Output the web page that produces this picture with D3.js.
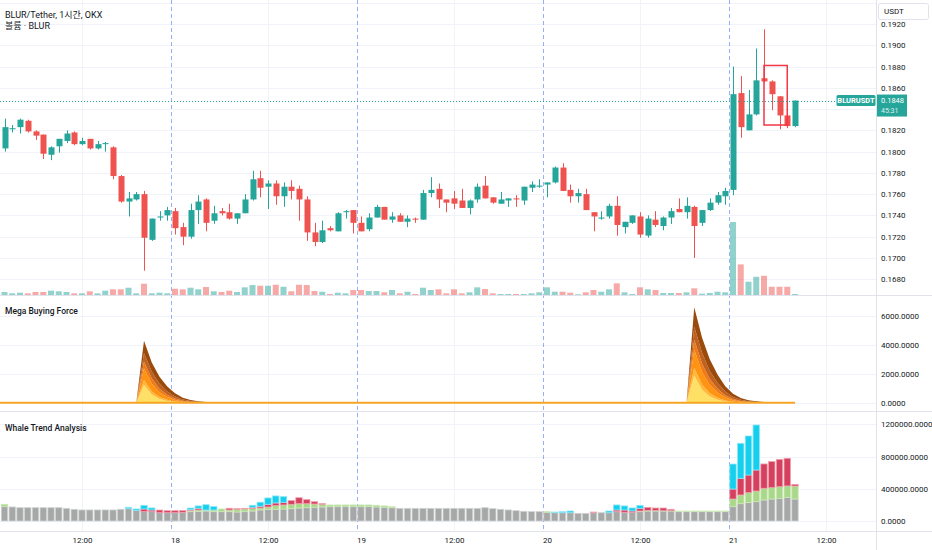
<!DOCTYPE html>
<html>
<head>
<meta charset="utf-8">
<script src="https://cdn.jsdelivr.net/npm/d3@7"></script>
<style>
body { margin: 0; background: #fff; }
svg text { font-family: Roboto, "Noto Sans CJK KR", sans-serif; }
</style>
</head>
<body>
<svg id="chart" width="932" height="550"></svg>
<script>
// ---- data ----
const openP = [.1803,.1821,.1823,.1829,.1819,.1816,.1797,.1805,.1810,.1818,
  .1807,.1812,.1803,.1807,.1804,.1777,.1753,.1755,.1760,.1717,
  .1738,.1740,.1744,.1729,.1720,.1745,.1755,.1735,.1744,.1743,
  .1737,.1742,.1755,.1775,.1767,.1770,.1758,.1767,.1765,.1755,
  .1724,.1715,.1728,.1725,.1743,.1745,.1733,.1727,.1738,.1748,
  .1736,.1740,.1734,.1737,.1736,.1761,.1765,.1755,.1756,.1754,
  .1747,.1755,.1768,.1757,.1751,.1754,.1756,.1754,.1766,.1767,
  .1769,.1771,.1785,.1764,.1758,.1760,.1743,.1737,.1739,.1749,
  .1729,.1733,.1739,.1721,.1736,.1730,.1738,.1746,.1743,.1748,
  .1733,.1745,.1752,.1758,.1764,.1855,.1820,.1835,.1869,.1866,
  .1852,.1834,.1824];
const highP = [.1831,.1825,.1831,.1830,.1820,.1816,.1805,.1812,.1820,.1819,
  .1813,.1812,.1810,.1809,.1805,.1778,.1762,.1762,.1763,.1737,
  .1744,.1748,.1747,.1733,.1751,.1759,.1756,.1749,.1747,.1751,
  .1742,.1760,.1782,.1782,.1773,.1773,.1771,.1773,.1768,.1758,
  .1733,.1735,.1730,.1743,.1745,.1745,.1739,.1742,.1750,.1748,
  .1743,.1742,.1740,.1738,.1764,.1776,.1770,.1755,.1763,.1765,
  .1755,.1770,.1777,.1757,.1762,.1756,.1759,.1767,.1772,.1774,
  .1771,.1786,.1789,.1769,.1765,.1765,.1743,.1744,.1751,.1758,
  .1734,.1740,.1743,.1740,.1744,.1739,.1747,.1756,.1757,.1749,
  .1745,.1756,.1762,.1766,.1880,.1871,.1858,.1897,.1915,.1867,
  .1852,.1834,.1848];
const lowP = [.1800,.1818,.1817,.1818,.1811,.1793,.1792,.1799,.1808,.1806,
  .1806,.1802,.1802,.1800,.1774,.1752,.1739,.1754,.1688,.1716,
  .1735,.1735,.1722,.1712,.1718,.1732,.1725,.1732,.1740,.1736,
  .1732,.1742,.1754,.1757,.1746,.1750,.1748,.1755,.1735,.1716,
  .1711,.1714,.1725,.1725,.1737,.1723,.1725,.1725,.1738,.1736,
  .1733,.1734,.1729,.1733,.1736,.1757,.1747,.1743,.1746,.1747,
  .1741,.1752,.1756,.1751,.1751,.1748,.1748,.1750,.1762,.1766,
  .1757,.1770,.1763,.1752,.1752,.1745,.1725,.1736,.1737,.1721,
  .1723,.1732,.1719,.1719,.1729,.1726,.1732,.1743,.1737,.1700,
  .1730,.1744,.1750,.1750,.1759,.1813,.1820,.1834,.1865,.1839,
  .1821,.1822,.1823];
const closeP = [.1823,.1822,.1830,.1819,.1815,.1798,.1804,.1812,.1817,.1807,
  .1810,.1803,.1807,.1808,.1777,.1753,.1756,.1760,.1719,.1737,
  .1739,.1745,.1728,.1720,.1745,.1753,.1733,.1742,.1742,.1737,
  .1742,.1755,.1774,.1766,.1770,.1758,.1767,.1763,.1755,.1724,
  .1715,.1726,.1726,.1742,.1744,.1733,.1725,.1738,.1748,.1736,
  .1739,.1734,.1737,.1736,.1761,.1764,.1755,.1752,.1751,.1747,
  .1754,.1767,.1756,.1752,.1755,.1756,.1755,.1767,.1769,.1768,
  .1771,.1785,.1763,.1758,.1761,.1745,.1739,.1738,.1749,.1731,
  .1734,.1740,.1722,.1737,.1731,.1738,.1744,.1743,.1749,.1730,
  .1745,.1752,.1759,.1763,.1854,.1823,.1835,.1867,.1866,.1854,
  .1834,.1824,.1848];
// volume, thousands of BLUR
const volumeK = [30,17,23,17,30,30,43,37,30,17,
  17,37,17,43,57,57,73,17,113,17,
  23,17,63,57,73,57,80,37,30,43,
  30,77,100,93,93,103,83,37,103,100,
  40,33,10,23,17,50,50,40,40,27,
  50,17,33,10,73,50,57,17,57,17,
  27,77,60,17,10,10,10,10,17,27,
  77,33,33,23,7,27,50,33,57,117,
  27,10,77,57,50,20,20,20,27,67,
  13,20,33,27,733,307,133,183,193,83,
  83,83,10];

// Mega Buying Force: two bursts, six stacked layers each (bottom -> top)
const forceStartA = 17;
const forceLayersA = [
  [0, 1220, 560, 260, 120, 50, 22, 10, 4, 2, 1, 0, 0, 0, 0],
  [0, 345, 220, 130, 75, 38, 18, 8, 4, 2, 1, 1, 0, 0, 0],
  [0, 807, 540, 330, 190, 100, 50, 25, 13, 7, 4, 2, 1, 0, 0],
  [0, 456, 360, 250, 165, 95, 50, 27, 14, 8, 4, 2, 1, 1, 0],
  [0, 579, 470, 340, 230, 140, 80, 43, 23, 13, 7, 4, 2, 1, 1],
  [0, 869, 630, 485, 345, 224, 130, 72, 42, 23, 13, 7, 4, 2, 1]
];
const forceStartB = 88;
const forceLayersB = [
  [0, 1880, 900, 420, 200, 85, 35, 15, 7, 3, 1, 1, 0, 0, 0],
  [0, 530, 350, 230, 140, 75, 35, 17, 8, 4, 2, 1, 1, 0, 0],
  [0, 1240, 880, 570, 360, 195, 95, 48, 24, 13, 7, 3, 2, 1, 0],
  [0, 700, 580, 410, 270, 160, 85, 45, 23, 12, 6, 3, 2, 1, 1],
  [0, 890, 760, 560, 400, 250, 140, 78, 42, 24, 13, 7, 3, 2, 1],
  [0, 1340, 1030, 810, 580, 375, 220, 127, 71, 41, 23, 13, 7, 4, 2]
];

// Whale Trend Analysis, thousands
const whaleGray = [178,174,165,165,165,165,165,165,157,145,
  137,137,137,137,137,145,153,132,116,116,
  103,103,103,108,116,120,124,116,116,116,
  112,116,124,137,145,145,149,153,161,165,
  170,174,178,178,178,178,178,178,174,170,
  165,157,157,157,157,157,157,157,157,157,
  157,157,165,153,145,137,128,120,116,116,
  108,103,103,103,95,95,103,103,103,116,
  108,108,116,124,124,124,124,116,116,116,
  116,116,116,116,178,215,228,240,261,273,
  281,294,273];
const whaleGreen = [29,0,0,0,0,0,0,0,0,0,
  0,0,0,0,0,0,0,0,0,0,
  0,0,0,0,12,17,12,21,33,21,
  33,33,29,25,29,46,50,54,54,50,
  41,33,21,21,21,21,21,21,21,17,
  12,0,0,0,0,0,0,0,0,0,
  0,0,0,0,0,0,0,0,0,0,
  8,0,0,0,0,0,0,0,0,0,
  0,0,8,8,8,4,4,8,8,8,
  8,8,8,8,95,108,124,132,145,141,
  145,141,161];
const whaleRed = [0,0,0,0,0,0,0,0,0,0,
  0,0,0,0,0,0,0,0,33,21,
  33,25,25,21,12,21,0,0,0,21,
  8,8,17,21,33,33,33,46,74,50,
  29,8,0,0,0,0,0,0,0,0,
  0,0,0,0,0,0,0,0,0,0,
  0,0,0,0,0,0,0,0,0,0,
  0,0,0,0,0,0,8,0,0,21,
  29,17,33,37,29,33,17,0,0,0,
  0,0,0,0,124,207,219,261,302,323,
  339,343,21];
const whaleCyan = [0,0,0,0,0,0,0,0,0,0,
  0,0,0,0,0,0,17,17,45,25,
  0,0,0,0,21,29,66,41,0,0,
  0,0,25,50,79,87,70,0,0,0,
  0,0,0,0,0,0,0,0,0,0,
  0,0,0,0,0,0,0,0,0,0,
  0,0,0,0,0,0,0,0,0,0,
  0,8,12,21,0,0,0,0,21,62,
  50,37,37,0,0,0,0,0,0,0,
  0,0,0,0,310,434,484,558,0,0,
  0,0,0];

const priceTicks = [0.1680,0.1700,0.1720,0.1740,0.1760,0.1780,0.1800,0.1820,0.1840,0.1860,0.1880,0.1900,0.1920];
const priceGrid = priceTicks.concat([0.1940]);
const forceTicks = [0, 2000, 4000, 6000];
const whaleTicks = [0, 400000, 800000, 1200000];
const timeLabels = ["12:00","18","12:00","19","12:00","20","12:00","21","12:00"];
const lastPrice = 0.1848;
const countdown = "45:31";
const boxFrom = 0.1881, boxTo = 0.1825;   // drawn rectangle, price range
const boxBars = [98, 101];                 // drawn rectangle, bar range

// ---- layout ----
const plotRight = 876;
const green = "#26a69a", red = "#ef5350";
const gridColor = "#f0f3fa", lineColor = "#e0e3eb", textColor = "#131722";
const svg = d3.select("#chart");

const t0 = Date.UTC(2024, 8, 17, 2);
const times = openP.map((d, i) => new Date(t0 + i * 3600e3));
const x = d3.scaleUtc().domain([times[0], times[times.length - 1]])
  .range([4.5, 4.5 + 7.75 * (times.length - 1)]);
const barW = 7.75;

const yPrice = d3.scaleLinear().domain([0.1680, 0.1920]).range([279.2, 24]);
const yVol = d3.scaleLinear().domain([0, 733]).range([295, 222]);
const yForce = d3.scaleLinear().domain([0, 6000]).range([402.7, 315.7]);
const yWhale = d3.scaleLinear().domain([0, 1200000]).range([521, 424.3]);

const panes = [[0, 295], [296, 411], [412, 531]];
const defs = svg.append("defs");
panes.forEach((p, k) => {
  defs.append("clipPath").attr("id", "clip" + k)
    .append("rect").attr("x", 0).attr("y", p[0]).attr("width", plotRight).attr("height", p[1] - p[0]);
});

// ---- grid ----
const grid = svg.append("g");
function hLines(cls, ticks, scale) {
  grid.selectAll("line." + cls).data(ticks).join("line").attr("class", cls)
    .attr("x1", 0).attr("x2", plotRight)
    .attr("y1", d => Math.round(scale(d)) + 0.5).attr("y2", d => Math.round(scale(d)) + 0.5)
    .attr("stroke", gridColor);
}
hLines("hp", priceGrid, yPrice);
hLines("hf", forceTicks, yForce);
hLines("hw", whaleTicks, yWhale);

const tickTimes = d3.utcHour.every(12).range(new Date(Date.UTC(2024, 8, 17, 12)), new Date(Date.UTC(2024, 8, 21, 13)));
grid.selectAll("line.v").data(tickTimes.filter(t => t.getUTCHours() === 12)).join("line").attr("class", "v")
  .attr("x1", d => Math.round(x(d)) + 0.5).attr("x2", d => Math.round(x(d)) + 0.5)
  .attr("y1", 0).attr("y2", 531).attr("stroke", gridColor);

// session breaks sit between the last bar of a day and the first of the next
const breaks = tickTimes.filter(t => t.getUTCHours() === 0 && t <= times[times.length - 1]);
grid.selectAll("line.s").data(breaks).join("line").attr("class", "s")
  .attr("x1", d => Math.round(x(d) - barW / 2) + 0.5).attr("x2", d => Math.round(x(d) - barW / 2) + 0.5)
  .attr("y1", 0).attr("y2", 531)
  .attr("stroke", "#2962ff").attr("stroke-opacity", 0.5).attr("stroke-dasharray", "4,3");

// ---- main pane: volume + candles ----
const main = svg.append("g").attr("clip-path", "url(#clip0)");
main.selectAll("rect.vol").data(volumeK).join("rect").attr("class", "vol")
  .attr("x", (d, i) => x(times[i]) - 3)
  .attr("width", 6)
  .attr("y", d => yVol(d))
  .attr("height", d => 295 - yVol(d))
  .attr("fill", (d, i) => closeP[i] >= openP[i] ? green : red)
  .attr("opacity", 0.5);

const candles = main.selectAll("g.c").data(openP).join("g").attr("class", "c")
  .attr("fill", (d, i) => closeP[i] >= openP[i] ? green : red)
  .attr("stroke", (d, i) => closeP[i] >= openP[i] ? green : red);
candles.append("line")
  .attr("x1", (d, i) => Math.round(x(times[i])) + 0.5)
  .attr("x2", (d, i) => Math.round(x(times[i])) + 0.5)
  .attr("y1", (d, i) => yPrice(highP[i]))
  .attr("y2", (d, i) => yPrice(lowP[i]))
  .attr("stroke-width", 1);
candles.append("rect")
  .attr("x", (d, i) => Math.round(x(times[i])) - 2.5)
  .attr("width", 6)
  .attr("y", (d, i) => yPrice(Math.max(openP[i], closeP[i])))
  .attr("height", (d, i) => Math.max(1, Math.abs(yPrice(openP[i]) - yPrice(closeP[i]))))
  .attr("stroke", "none");

// drawn rectangle
main.append("rect")
  .attr("x", x(times[boxBars[0]])).attr("y", yPrice(boxFrom))
  .attr("width", x(times[boxBars[1]]) - x(times[boxBars[0]]))
  .attr("height", yPrice(boxTo) - yPrice(boxFrom))
  .attr("fill", "none").attr("stroke", "#f23645").attr("stroke-width", 1.5);

// last price line
main.append("line")
  .attr("x1", 0).attr("x2", 836)
  .attr("y1", Math.round(yPrice(lastPrice)) + 0.5).attr("y2", Math.round(yPrice(lastPrice)) + 0.5)
  .attr("stroke", green).attr("stroke-dasharray", "1,2");

// ---- mega buying force ----
const forceRows = times.map((t, i) => {
  const row = {};
  for (let k = 0; k < 6; k++) {
    let v = 0;
    if (i >= forceStartA && i - forceStartA < forceLayersA[k].length) v = forceLayersA[k][i - forceStartA];
    if (i >= forceStartB && i - forceStartB < forceLayersB[k].length) v = forceLayersB[k][i - forceStartB];
    row["l" + k] = v;
  }
  return row;
});
const forceKeys = d3.range(6).map(k => "l" + k);
const forceColors = ["#ffe066", "#ffb93a", "#ff9312", "#f07b14", "#c1611f", "#9a4a0a"];
const forceStack = d3.stack().keys(forceKeys)(forceRows);
const forceArea = d3.area()
  .x((d, i) => x(times[i]))
  .y0(d => yForce(d[0]))
  .y1(d => yForce(d[1]));
const force = svg.append("g").attr("clip-path", "url(#clip1)");
force.selectAll("path").data(forceStack).join("path")
  .attr("d", forceArea)
  .attr("fill", (d, k) => forceColors[k]);
force.append("line")
  .attr("x1", 0).attr("x2", x(times[times.length - 1]))
  .attr("y1", yForce(0)).attr("y2", yForce(0))
  .attr("stroke", "#f7a623").attr("stroke-width", 2);

// ---- whale trend analysis ----
const whaleRows = times.map((t, i) => ({
  time: t,
  gray: whaleGray[i] * 1000, green: whaleGreen[i] * 1000,
  red: whaleRed[i] * 1000, cyan: whaleCyan[i] * 1000
}));
const whaleKeys = ["gray", "green", "red", "cyan"];
const whaleFill = { gray: "#a6a8a8", green: "#a9d889", red: "#d5405e", cyan: "#15cfee" };
const whaleEdge = { gray: "#d0d1d1", green: "#cbe8b6", red: "#f0a0ae", cyan: "#8ce6f6" };
const whale = svg.append("g").attr("clip-path", "url(#clip2)");
whale.selectAll("g").data(d3.stack().keys(whaleKeys)(whaleRows)).join("g")
  .attr("fill", s => whaleFill[s.key])
  .attr("stroke", s => whaleEdge[s.key])
  .selectAll("rect").data(s => s.filter(d => d[1] > d[0])).join("rect")
  .attr("x", d => x(d.data.time) - 3.2)
  .attr("width", 6.4)
  .attr("y", d => yWhale(d[1]))
  .attr("height", d => yWhale(d[0]) - yWhale(d[1]))
  .attr("stroke-width", 0.8);

// ---- frames ----
svg.append("line").attr("x1", 0).attr("x2", 932).attr("y1", 295.5).attr("y2", 295.5).attr("stroke", lineColor);
svg.append("line").attr("x1", 0).attr("x2", 932).attr("y1", 411.5).attr("y2", 411.5).attr("stroke", lineColor);
svg.append("line").attr("x1", 0).attr("x2", 932).attr("y1", 531.5).attr("y2", 531.5).attr("stroke", lineColor);
svg.append("line").attr("x1", plotRight + 0.5).attr("x2", plotRight + 0.5).attr("y1", 0).attr("y2", 550).attr("stroke", lineColor);

// ---- axes ----
function styleAxis(g) {
  g.select(".domain").remove();
  g.attr("font-family", null).attr("font-size", null);
  g.selectAll("text").attr("fill", textColor).style("font-size", "8px");
}
// the label under the last-price box is hidden, as on the terminal
const yl = yPrice(lastPrice);
const shownPriceTicks = priceTicks.filter(p => Math.abs(yPrice(p) - yl - 5) > 13);
svg.append("g").attr("transform", `translate(${plotRight},0)`)
  .call(d3.axisRight(yPrice).tickValues(shownPriceTicks).tickSize(0).tickPadding(5).tickFormat(d3.format(".4f")))
  .call(styleAxis);
svg.append("g").attr("transform", `translate(${plotRight},0)`)
  .call(d3.axisRight(yForce).tickValues(forceTicks).tickSize(0).tickPadding(5).tickFormat(d3.format(".4f")))
  .call(styleAxis);
svg.append("g").attr("transform", `translate(${plotRight},0)`)
  .call(d3.axisRight(yWhale).tickValues(whaleTicks).tickSize(0).tickPadding(5).tickFormat(d3.format(".4f")))
  .call(styleAxis);
svg.append("g").attr("transform", "translate(0,533)")
  .call(d3.axisBottom(x).tickValues(tickTimes).tickSize(0).tickPadding(4).tickFormat((d, i) => timeLabels[i]))
  .call(styleAxis);

// unit box
svg.append("rect").attr("x", 878.5).attr("y", 3.5).attr("width", 50).attr("height", 16).attr("rx", 2)
  .attr("fill", "#fff").attr("stroke", lineColor);
svg.append("text").attr("x", 884).attr("y", 11.5).attr("dominant-baseline", "central")
  .attr("fill", textColor).style("font-size", "8px").text("USDT");

// last price labels
svg.append("rect").attr("x", 836.5).attr("y", yl - 5.5).attr("width", 39).attr("height", 11).attr("rx", 1.5).attr("fill", green);
svg.append("text").attr("x", 856).attr("y", yl).attr("text-anchor", "middle").attr("dominant-baseline", "central")
  .attr("fill", "#fff").style("font-size", "7.5px").style("font-weight", "bold").text("BLURUSDT");
svg.append("rect").attr("x", 877).attr("y", yl - 6).attr("width", 30).attr("height", 22).attr("fill", green);
svg.append("text").attr("x", 881).attr("y", yl - 0.5).attr("dominant-baseline", "central")
  .attr("fill", "#fff").style("font-size", "7.5px").text(d3.format(".4f")(lastPrice));
svg.append("text").attr("x", 881).attr("y", yl + 10.5).attr("dominant-baseline", "central")
  .attr("fill", "rgba(255,255,255,0.85)").style("font-size", "7px").text(countdown);

// ---- titles ----
svg.append("text").attr("x", 5).attr("y", 15).attr("dominant-baseline", "central")
  .attr("fill", textColor).style("font-size", "9px").text("BLUR/Tether, 1시간, OKX");
svg.append("text").attr("x", 5).attr("y", 25.5).attr("dominant-baseline", "central")
  .attr("fill", textColor).style("font-size", "9px").text("볼륨 · BLUR");
svg.append("text").attr("x", 5).attr("y", 310.5).attr("dominant-baseline", "central")
  .attr("fill", textColor).style("font-size", "8.5px").style("font-weight", 500).text("Mega Buying Force");
svg.append("text").attr("x", 5).attr("y", 428).attr("dominant-baseline", "central")
  .attr("fill", textColor).style("font-size", "8.5px").style("font-weight", 500).text("Whale Trend Analysis");
</script>
</body>
</html>
